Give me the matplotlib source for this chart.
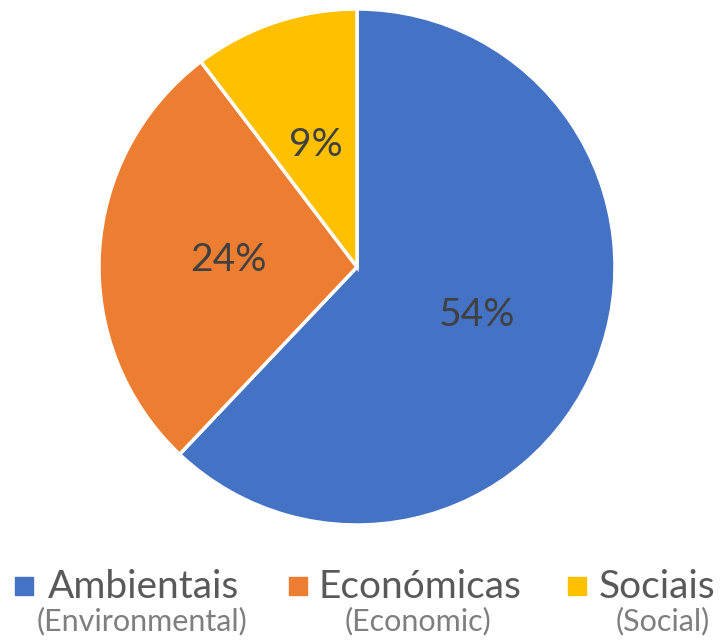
import matplotlib
matplotlib.use("Agg")
import matplotlib.pyplot as plt
from matplotlib.patches import Rectangle

# Data
categories = ["Ambientais", "Económicas", "Sociais"]
subtitles = ["(Environmental)", "(Economic)", "(Social)"]
values = [54, 24, 9]
colors = ["#4472C4", "#ED7D31", "#FFC000"]

plt.rcParams['font.family'] = ['Lato', 'DejaVu Sans']

W, H = 720, 644
fig = plt.figure(figsize=(W / 100, H / 100), dpi=100)

# pie axes: centre (357, 267) px, radius 258 px
cx, cy, r = 357, 267, 258
ax = fig.add_axes([(cx - r) / W, (H - cy - r) / H, 2 * r / W, 2 * r / H])
wedges, texts = ax.pie(values, colors=colors, startangle=90, counterclock=False,
                       labels=[f"{v}%" for v in values], labeldistance=0.5,
                       wedgeprops=dict(edgecolor="white", linewidth=2.5),
                       textprops=dict(color="#404040", fontsize=28, ha="center", va="center"))
for t in texts:
    t.set_horizontalalignment("center")
ax.set_xlim(-1, 1)
ax.set_ylim(-1, 1)
ax.set_aspect("equal")
ax.axis("off")

# legend built by hand (two-line labels), x = centre of each text
sq_x = [15, 289, 568]
main_cx = [143, 420, 657]
sub_cx = [142, 418, 663]
for i in range(3):
    fig.patches.append(Rectangle((sq_x[i] / W, (H - 595) / H), 18 / W, 18 / H,
                                 transform=fig.transFigure, color=colors[i]))
    fig.text(main_cx[i] / W, (H - 598) / H, categories[i], fontsize=28,
             color="#595959", ha="center", va="baseline")
    fig.text(sub_cx[i] / W, (H - 630) / H, subtitles[i], fontsize=22,
             color="#7F7F7F", ha="center", va="baseline")

fig.savefig("out.png", dpi=100)
